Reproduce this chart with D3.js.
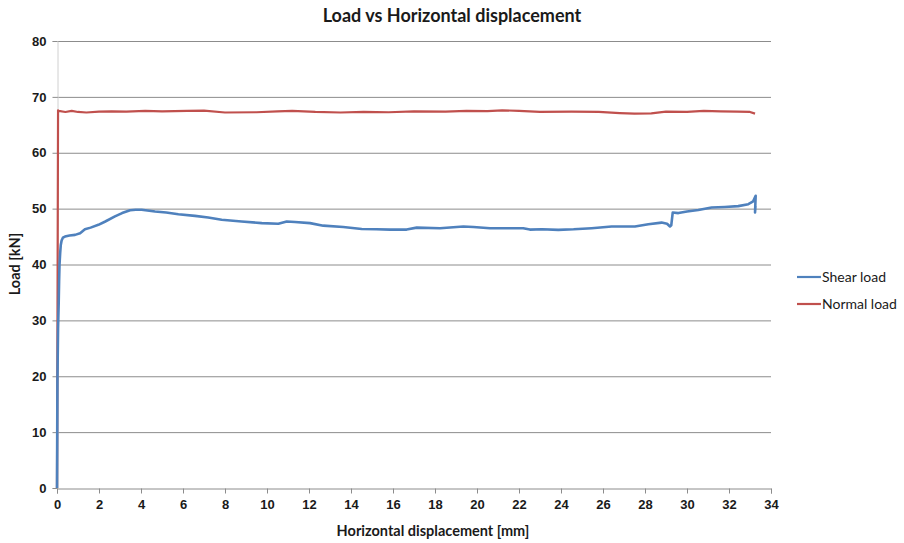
<!DOCTYPE html>
<html>
<head>
<meta charset="utf-8">
<script src="https://cdn.jsdelivr.net/npm/d3@7"></script>
<style>
  html, body { margin: 0; padding: 0; background: #fff; }
  svg { display: block; font-family: Lato, "Liberation Sans", sans-serif; }
</style>
</head>
<body>
<svg id="chart" width="904" height="543"></svg>
<script>
// Horizontal displacement [mm] and loads [kN] for the shear test
const shearDisp = [0, 0.02, 0.05, 0.08, 0.1, 0.12, 0.15, 0.18, 0.22, 0.28, 0.38, 0.6, 0.86, 1.1, 1.33, 1.6, 1.97, 2.3, 2.76, 3.1, 3.48, 3.75, 4.03, 4.67, 5.2, 5.78, 6.57, 7.2, 7.84, 8.79, 9.75, 10.54, 10.94, 11.33, 12.05, 12.68, 13.63, 14.51, 15.2, 15.86, 16.65, 17.13, 18.24, 19.35, 19.83, 20.62, 21.4, 22.2, 22.52, 23.1, 23.87, 24.6, 25.46, 26.41, 27.52, 28.16, 28.79, 29.05, 29.19, 29.25, 29.32, 29.59, 30.0, 30.54, 31.17, 31.8, 32.44, 32.92, 33.15, 33.27, 33.24, 33.26];
const shearLoad = [0, 19, 28.5, 33, 37, 40, 42, 43.5, 44.3, 44.8, 45.0, 45.2, 45.3, 45.6, 46.3, 46.6, 47.1, 47.7, 48.6, 49.2, 49.7, 49.8, 49.8, 49.5, 49.3, 49.0, 48.7, 48.4, 48.0, 47.7, 47.4, 47.3, 47.7, 47.6, 47.4, 46.95, 46.7, 46.35, 46.3, 46.25, 46.25, 46.6, 46.5, 46.8, 46.7, 46.5, 46.5, 46.5, 46.25, 46.3, 46.2, 46.3, 46.5, 46.8, 46.8, 47.2, 47.5, 47.3, 46.8, 47.0, 49.3, 49.2, 49.5, 49.75, 50.2, 50.3, 50.45, 50.8, 51.3, 52.3, 49.3, 50.5];

const normalDisp = [0, 0.03, 0.05, 0.08, 0.4, 0.7, 1.0, 1.4, 2.0, 2.6, 3.3, 4.2, 5.0, 6.2, 7.0, 8.0, 9.5, 10.5, 11.2, 12.3, 13.5, 14.6, 15.8, 17.0, 18.5, 19.5, 20.5, 21.2, 22.0, 23.0, 24.5, 25.8, 26.8, 27.5, 28.3, 29.0, 30.0, 30.8, 31.6, 32.4, 33.0, 33.24];
const normalLoad = [0, 40, 67.6, 67.5, 67.3, 67.5, 67.3, 67.2, 67.35, 67.4, 67.35, 67.5, 67.4, 67.5, 67.55, 67.2, 67.25, 67.4, 67.5, 67.3, 67.2, 67.3, 67.25, 67.4, 67.35, 67.5, 67.45, 67.6, 67.5, 67.3, 67.35, 67.3, 67.1, 67.0, 67.05, 67.35, 67.3, 67.5, 67.4, 67.35, 67.3, 67.0];

const xTicks = d3.range(0, 35, 2);
const yTicks = d3.range(0, 81, 10);

const seriesNames = ["Shear load", "Normal load"];
const seriesColors = ["#4F81BD", "#C0504D"];

const svg = d3.select("#chart");
const margin = { left: 57, right: 133, top: 41, bottom: 55 };
const W = 904, H = 543;

const x = d3.scaleLinear().domain([0, 34]).range([margin.left, W - margin.right]);
const y = d3.scaleLinear().domain([0, 80]).range([H - margin.bottom, margin.top]);

const gridColor = "#8c8c8c";
const textColor = "#1a1a1a";

// horizontal gridlines
svg.append("g")
  .selectAll("line")
  .data(yTicks.filter(d => d > 0))
  .join("line")
  .attr("x1", x(0)).attr("x2", x(34))
  .attr("y1", d => y(d) + 0.5).attr("y2", d => y(d) + 0.5)
  .attr("stroke", gridColor).attr("stroke-width", 1);

// y axis
const yAxis = svg.append("g")
  .attr("transform", `translate(${x(0) + 0.5},0)`)
  .call(d3.axisLeft(y).tickValues(yTicks).tickSize(5).tickPadding(6).tickFormat(d3.format("d")));
yAxis.select(".domain").attr("stroke", "#d0d0d0");
yAxis.selectAll(".tick line").attr("stroke", gridColor);
yAxis.selectAll("text").attr("font-size", 13).attr("fill", textColor).attr("font-weight", 600);

// x axis
const xAxis = svg.append("g")
  .attr("transform", `translate(0,${y(0) + 0.5})`)
  .call(d3.axisBottom(x).tickValues(xTicks).tickSize(5).tickPadding(6).tickFormat(d3.format("d")));
xAxis.select(".domain").attr("stroke", gridColor);
xAxis.selectAll(".tick line").attr("stroke", gridColor);
xAxis.selectAll("text").attr("font-size", 13).attr("fill", textColor).attr("font-weight", 600);

// data lines
const line = d3.line().x(d => x(d[0])).y(d => y(d[1]));
const shear = shearDisp.map((d, i) => [d, shearLoad[i]]);
const normal = normalDisp.map((d, i) => [d, normalLoad[i]]);

svg.append("path").datum(normal)
  .attr("d", line).attr("fill", "none")
  .attr("stroke", seriesColors[1]).attr("stroke-width", 2.2).attr("stroke-linejoin", "round");
svg.append("path").datum(shear)
  .attr("d", line).attr("fill", "none")
  .attr("stroke", seriesColors[0]).attr("stroke-width", 2.6).attr("stroke-linejoin", "round");

// title and axis titles
svg.append("text")
  .attr("x", 452).attr("y", 22).attr("text-anchor", "middle")
  .attr("font-size", 18).attr("font-weight", 700).attr("fill", textColor)
  .text("Load vs Horizontal displacement");

svg.append("text")
  .attr("x", 433).attr("y", 536).attr("text-anchor", "middle")
  .attr("font-size", 14.5).attr("font-weight", 700).attr("fill", textColor)
  .text("Horizontal displacement [mm]");

svg.append("text")
  .attr("transform", "translate(20,264) rotate(-90)").attr("text-anchor", "middle")
  .attr("font-size", 14.5).attr("font-weight", 700).attr("fill", textColor)
  .text("Load [kN]");

// legend
const legend = svg.append("g").attr("transform", "translate(797,277)");
seriesNames.forEach((name, i) => {
  const g = legend.append("g").attr("transform", `translate(0,${i * 27})`);
  g.append("line").attr("x1", 0).attr("x2", 24).attr("y1", 0).attr("y2", 0)
    .attr("stroke", seriesColors[i]).attr("stroke-width", 2.2);
  g.append("text").attr("x", 25).attr("y", 5)
    .attr("font-size", 14).attr("fill", textColor).text(name);
});
</script>
</body>
</html>
